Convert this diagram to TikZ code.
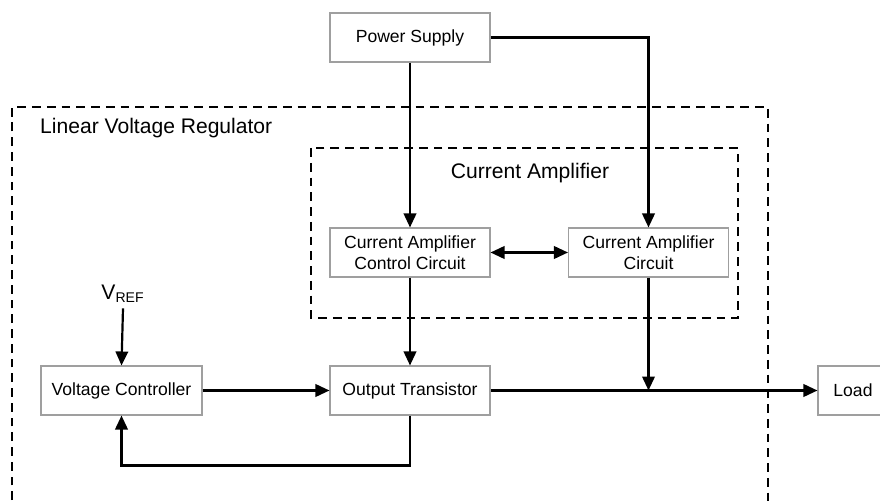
\documentclass[tikz,border=0pt]{standalone}
\usepackage{fontspec}
\setmainfont{Liberation Sans}
\usetikzlibrary{positioning,arrows.meta,calc}
\tikzset{
  blk/.style={rectangle, draw=gray!75, line width=0.6pt, minimum width=3.2cm,
              minimum height=0.98cm, inner sep=1pt, align=center, font=\fontsize{10}{12}\selectfont},
  sig/.style={line width=1.25pt, -{Triangle[length=2.8mm, width=2.5mm]}},
  both/.style={line width=1.25pt, {Triangle[length=2.8mm, width=2.5mm]}-{Triangle[length=2.8mm, width=2.5mm]}},
  grp/.style={line width=0.85pt, dash pattern=on 5pt off 3.4pt},
  ttl/.style={font=\fontsize{12}{14}\selectfont},
}
\begin{document}
\begin{tikzpicture}[x=0.02cm, y=-0.02cm]
  \useasboundingbox (0,0) rectangle (880,503);
  % dashed groups
  \draw[grp] (12,515) -- (12,107) -- (768,107) -- (768,515);
  \draw[grp] (311,148) rectangle (738,318);
  \node[ttl, anchor=west] (lvr) at (34,128) {Linear Voltage Regulator};
  \node[ttl] (ca) at (530,173) {Current Amplifier};
  % blocks
  \node[blk] (ps) at (410,37.5) {Power Supply};
  \node[blk] (cacc) at (410,252.5) {Current Amplifier\\Control Circuit};
  \node[blk] (cac) at (648.5,252.5) {Current Amplifier\\Circuit};
  \node[blk, minimum width=3.22cm] (vc) at (121.5,390.5) {Voltage Controller};
  \node[blk] (ot) at (410,390.5) {Output Transistor};
  \node[blk, minimum width=1.4cm] (load) at (853,390.5) {Load};
  \node[font=\fontsize{12}{14}\selectfont, inner sep=3pt] (vref) at (123,294) {V\textsubscript{REF}};
  % connections
  \draw[sig] (ps.south) -- (cacc.north);
  \draw[sig] (ps.east) -| (cac.north);
  \draw[both] (cacc.east) -- (cac.west);
  \draw[sig] (cacc.south) -- (ot.north);
  \draw[sig] (cac.south) -- (cac.south |- ot.east);
  \draw[sig] (vref.south) -- (vc.north);
  \draw[sig] (vc.east) -- (ot.west);
  \draw[sig] (ot.east) -- (load.west);
  \draw[sig] (ot.south) -- ++(0,50) -| (vc.south);
\end{tikzpicture}
\end{document}
